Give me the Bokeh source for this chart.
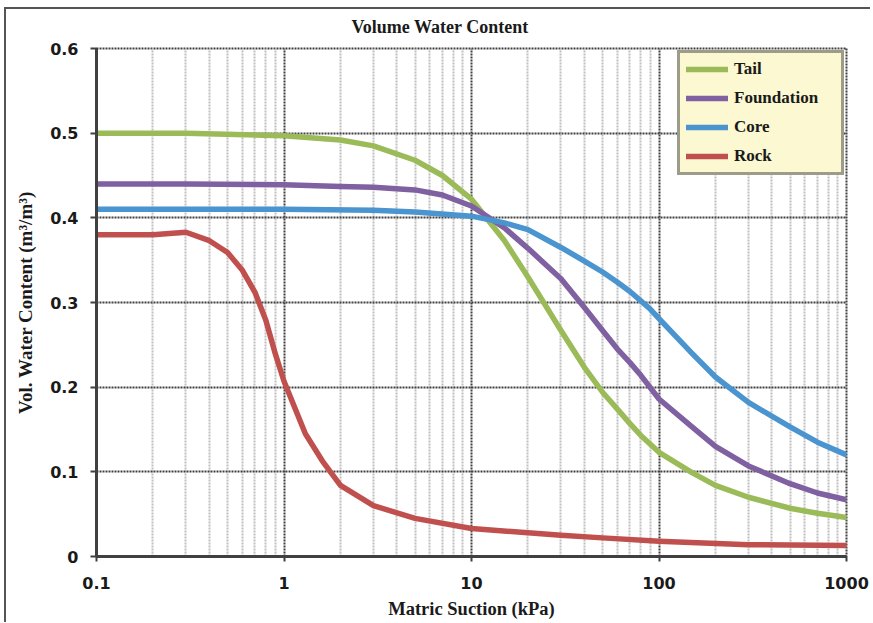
from bokeh.plotting import figure
from bokeh.models import FixedTicker, CustomJSTickFormatter, Legend, LegendItem, Range1d
from bokeh.embed import file_html
from bokeh.resources import INLINE

# ---- data ----
tail_x = [0.1, 0.3, 1, 2, 3, 5, 7, 10, 15, 20, 30, 40, 50, 60, 70, 80, 100, 150, 200, 300, 500, 700, 1000]
tail_y = [0.500, 0.500, 0.497, 0.492, 0.485, 0.468, 0.450, 0.422, 0.373, 0.330, 0.267, 0.2235, 0.194,
          0.174, 0.157, 0.143, 0.123, 0.099, 0.084, 0.070, 0.057, 0.051, 0.046]

found_x = [0.1, 0.3, 1, 2, 3, 5, 7, 10, 15, 20, 30, 40, 50, 60, 70, 80, 100, 150, 200, 300, 500, 700, 1000]
found_y = [0.440, 0.440, 0.439, 0.437, 0.436, 0.433, 0.427, 0.414, 0.388, 0.364, 0.328, 0.294, 0.267,
           0.245, 0.229, 0.214, 0.186, 0.153, 0.130, 0.107, 0.086, 0.075, 0.067]

core_x = [0.1, 1, 3, 5, 10, 15, 20, 30, 40, 50, 60, 70, 80, 90, 100, 150, 200, 300, 500, 700, 1000]
core_y = [0.410, 0.410, 0.409, 0.407, 0.402, 0.394, 0.386, 0.365, 0.349, 0.336, 0.324, 0.313, 0.302,
          0.292, 0.281, 0.240, 0.212, 0.182, 0.153, 0.135, 0.120]

rock_x = [0.1, 0.2, 0.3, 0.4, 0.5, 0.6, 0.7, 0.8, 0.9, 1, 1.3, 1.6, 2, 3, 5, 10, 20, 30, 50, 100, 300, 1000]
rock_y = [0.380, 0.380, 0.383, 0.373, 0.359, 0.338, 0.312, 0.279, 0.239, 0.207, 0.145, 0.113,
          0.084, 0.060, 0.045, 0.033, 0.028, 0.025, 0.022, 0.018, 0.014, 0.013]

series_names = ["Tail", "Foundation", "Core", "Rock"]
series_colors = ["#9BBB59", "#7F60A0", "#4A94D0", "#C0504D"]

x_ticks = [0.1, 1, 10, 100, 1000]
x_minor = [m * d for d in [0.1, 1, 10, 100] for m in range(2, 10)]
y_ticks = [0, 0.1, 0.2, 0.3, 0.4, 0.5, 0.6]

title_text = "Volume Water Content"
x_label = "Matric Suction (kPa)"
y_label = "Vol. Water Content (m³/m³)"

DARK = "#404040"
FRAME_W, FRAME_H = 750, 508
LEFT, TOP = 96, 48
W, H = 870, 622

p = figure(width=W, height=H, x_axis_type="log", output_backend="svg",
           toolbar_location=None, x_range=Range1d(0.1, 1000), y_range=Range1d(0, 0.6),
           min_border_left=LEFT, min_border_right=W - LEFT - FRAME_W,
           min_border_top=TOP, min_border_bottom=H - TOP - FRAME_H)

# outer chart-area frame (top and left edges visible in the reference)
p.styles = {"background": "linear-gradient(#555555, #555555) 4px 7px / 2px calc(100% - 7px) no-repeat, "
                          "linear-gradient(#555555, #555555) 4px 7px / calc(100% - 4px) 2px no-repeat"}
p.border_fill_color = None
p.background_fill_color = "white"

p.title.text = title_text
p.title.text_font = "Liberation Serif"
p.title.text_font_style = "bold"
p.title.text_font_size = "18px"
p.title.text_color = "#1a1a1a"
p.title.align = "left"
p.title.offset = 255
p.title.standoff = 23

# axes
p.xaxis.ticker = FixedTicker(ticks=x_ticks, minor_ticks=x_minor)
p.xaxis.formatter = CustomJSTickFormatter(code="return tick.toString()")
p.yaxis.ticker = FixedTicker(ticks=y_ticks)
p.yaxis.major_label_overrides = {0: "0"}

for ax in (p.xaxis[0], p.yaxis[0]):
    ax.axis_line_color = DARK
    ax.axis_line_width = 3
    ax.major_tick_line_color = DARK
    ax.major_tick_line_width = 2
    ax.major_tick_in = 0
    ax.minor_tick_line_color = None
    ax.major_label_text_font = "DejaVu Sans"
    ax.major_label_text_font_style = "bold"
    ax.major_label_text_font_size = "16px"
    ax.major_label_text_color = "#1a1a1a"
    ax.axis_label_text_font = "Liberation Serif"
    ax.axis_label_text_font_style = "bold"
    ax.axis_label_text_color = "#1a1a1a"

p.xaxis.axis_label_text_font_size = "18.5px"
p.yaxis.axis_label_text_font_size = "19px"
p.yaxis.major_tick_out = 6
p.yaxis.major_label_standoff = 12
p.xaxis.major_tick_out = 5
p.xaxis.major_label_standoff = 15

p.xaxis.axis_label = x_label
p.yaxis.axis_label = y_label
p.xaxis.axis_label_standoff = 7
p.yaxis.axis_label_standoff = 11

# grids
p.xgrid.grid_line_color = DARK
p.xgrid.grid_line_width = 2
p.xgrid.grid_line_dash = "2 1"
p.xgrid.minor_grid_line_color = "#BFBFBF"
p.xgrid.minor_grid_line_width = 2
p.xgrid.minor_grid_line_dash = "2 1"
p.ygrid.grid_line_color = DARK
p.ygrid.grid_line_width = 2
p.ygrid.grid_line_dash = "2 1"

p.outline_line_color = DARK
p.outline_line_width = 2
p.outline_line_dash = "2 1"

xs = [tail_x, found_x, core_x, rock_x]
ys = [tail_y, found_y, core_y, rock_y]
renderers = []
for x, y, c in zip(xs, ys, series_colors):
    r = p.line(x, y, line_color=c, line_width=5.5, line_join="round", line_cap="round")
    renderers.append(r)

legend = Legend(items=[LegendItem(label=n, renderers=[r]) for n, r in zip(series_names, renderers)],
                location="top_right")
legend.background_fill_color = "#FBF8D2"
legend.background_fill_alpha = 1
legend.border_line_color = DARK
legend.border_line_width = 3
legend.label_text_font = "Liberation Serif"
legend.label_text_font_style = "bold"
legend.label_text_font_size = "17px"
legend.label_text_color = "#1a1a1a"
legend.glyph_width = 42
legend.glyph_height = 20
legend.label_height = 20
legend.label_width = 101
legend.label_standoff = 6
legend.spacing = 9
legend.padding = 6
legend.margin = 2
p.add_layout(legend)

open("out.html", "w").write(file_html(p, INLINE))
